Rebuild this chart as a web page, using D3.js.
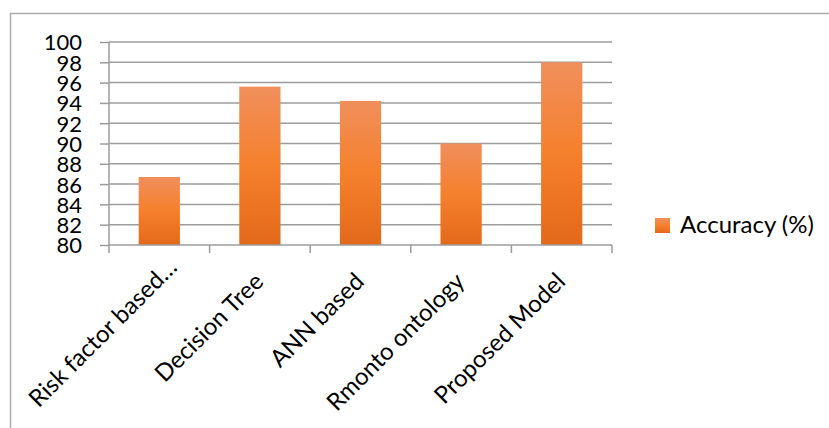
<!DOCTYPE html>
<html><head><meta charset="utf-8">
<script src="https://cdn.jsdelivr.net/npm/d3@7"></script>
<style>body{margin:0;background:#fff}svg{display:block}</style>
</head><body>
<svg id="c" width="829" height="428"></svg>
<script>
const categories = ["Risk factor based…", "Decision Tree", "ANN based", "Rmonto ontology", "Proposed Model"];
const accuracy = [86.7, 95.6, 94.2, 90.0, 98.0];
const yTicks = [80, 82, 84, 86, 88, 90, 92, 94, 96, 98, 100];
const seriesName = "Accuracy (%)";

const svg = d3.select("#c");
const font = "Lato, 'Open Sans', sans-serif";
const pLeft = 109, pRight = 612, pTop = 42, pBottom = 245;

// outer frame
svg.append("path").attr("d", "M10.5,428 V13.5 H829")
  .attr("fill", "none").attr("stroke", "#aaaaaa").attr("stroke-width", 1.5);

const defs = svg.append("defs");
const g = defs.append("linearGradient").attr("id", "bg").attr("x1", 0).attr("y1", 0).attr("x2", 0).attr("y2", 1);
g.append("stop").attr("offset", "0%").attr("stop-color", "#f08f5c");
g.append("stop").attr("offset", "50%").attr("stop-color", "#f5802c");
g.append("stop").attr("offset", "100%").attr("stop-color", "#e3691a");

const x = d3.scaleBand().domain(categories).range([pLeft, pRight]).paddingInner(0.59).paddingOuter(0.295);
const y = d3.scaleLinear().domain([80, 100]).range([pBottom, pTop]);

// gridlines
svg.append("g").selectAll("line").data(yTicks.slice(1)).join("line")
  .attr("x1", pLeft).attr("x2", pRight)
  .attr("y1", d => y(d)).attr("y2", d => y(d))
  .attr("stroke", "#9c9c9c").attr("stroke-width", 1.5);

// y axis
const yAxis = d3.axisLeft(y).tickValues(yTicks).tickSize(9).tickPadding(18);
const ya = svg.append("g").attr("transform", `translate(${pLeft},0)`).call(yAxis);
ya.select(".domain").attr("stroke", "#9c9c9c").attr("stroke-width", 1.5).attr("d", `M0,${pTop}V${pBottom}`);
ya.selectAll(".tick line").attr("stroke", "#9c9c9c").attr("stroke-width", 1.5);
ya.selectAll("text").attr("font-family", font).attr("font-size", 22).attr("fill", "#000").attr("dy", "0.36em");

// bars
svg.append("g").selectAll("rect").data(accuracy).join("rect")
  .attr("x", (d, i) => x(categories[i]))
  .attr("y", d => y(d))
  .attr("width", x.bandwidth())
  .attr("height", d => pBottom - y(d))
  .attr("fill", "url(#bg)");

// x axis
const step = x.step();
const xa = svg.append("g").attr("transform", `translate(0,${pBottom})`);
xa.append("line").attr("x1", pLeft).attr("x2", pRight).attr("stroke", "#9c9c9c").attr("stroke-width", 1.5);
const tickXs = d3.range(categories.length + 1).map(i => pLeft + i * step);
xa.selectAll(".tk").data(tickXs).join("line").attr("class", "tk")
  .attr("x1", d => d).attr("x2", d => d).attr("y1", 0).attr("y2", 8)
  .attr("stroke", "#9c9c9c").attr("stroke-width", 1.5);
xa.selectAll("text.lbl").data(categories).join("text").attr("class", "lbl")
  .attr("transform", d => `translate(${x(d) + x.bandwidth() / 2 + 5},${38}) rotate(-45)`)
  .attr("dx", d => d.endsWith("…") ? 20 : 0)
  .attr("text-anchor", "end")
  .attr("font-family", font).attr("font-size", 24).attr("fill", "#000")
  .text(d => d);

// legend
const lg = svg.append("g").attr("transform", "translate(655,218)");
lg.append("rect").attr("width", 15).attr("height", 15).attr("fill", "url(#bg)");
lg.append("text").attr("x", 25).attr("y", 15).attr("font-family", font).attr("font-size", 24)
  .attr("fill", "#000").text(seriesName);
</script>
</body></html>
